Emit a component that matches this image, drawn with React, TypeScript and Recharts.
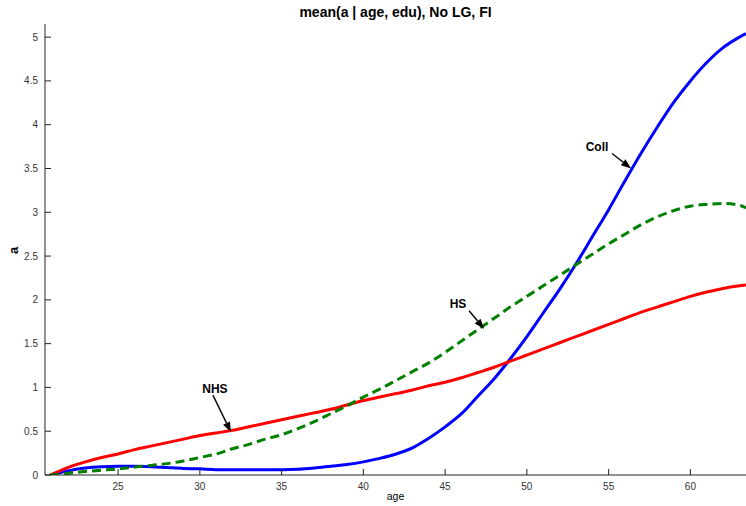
import { LineChart, Line, XAxis, YAxis, ReferenceDot } from "recharts";

if (typeof document !== "undefined") {
  document.body.style.margin = "0";
  document.documentElement.style.overflow = "hidden";
}

const ages = [
  20.85, 22, 23, 24, 25, 26, 27, 28, 29, 30, 31, 32, 33, 34, 35, 36, 37, 38, 39, 40, 41, 42,
  43, 44, 45, 46, 47, 48, 49, 50, 51, 52, 53, 54, 55, 56, 57, 58, 59, 60, 61, 62, 63, 63.4,
];

const nhs = [
  0, 0.09, 0.15, 0.2, 0.24, 0.29, 0.33, 0.37, 0.41, 0.45, 0.48, 0.51, 0.55, 0.59, 0.63, 0.67,
  0.71, 0.75, 0.8, 0.85, 0.89, 0.93, 0.97, 1.02, 1.06, 1.11, 1.17, 1.23, 1.3, 1.37, 1.44, 1.51,
  1.58, 1.65, 1.72, 1.79, 1.86, 1.92, 1.98, 2.04, 2.09, 2.13, 2.16, 2.17,
];

const hs = [
  0, 0.02, 0.04, 0.055, 0.07, 0.09, 0.11, 0.13, 0.16, 0.2, 0.24, 0.3, 0.35, 0.41, 0.46, 0.53,
  0.61, 0.7, 0.79, 0.89, 0.98, 1.08, 1.18, 1.28, 1.4, 1.53, 1.66, 1.79, 1.92, 2.04, 2.16, 2.28,
  2.4, 2.52, 2.64, 2.75, 2.86, 2.95, 3.02, 3.07, 3.09, 3.1, 3.08, 3.05,
];

const coll = [
  0, 0.05, 0.08, 0.095, 0.1, 0.1, 0.095, 0.085, 0.075, 0.07, 0.06, 0.06, 0.06, 0.06, 0.06, 0.065,
  0.08, 0.1, 0.12, 0.15, 0.19, 0.24, 0.31, 0.42, 0.55, 0.7, 0.9, 1.1, 1.33, 1.58, 1.85, 2.12,
  2.41, 2.72, 3.03, 3.36, 3.68, 3.98, 4.26, 4.5, 4.71, 4.88, 5.0, 5.04,
];

const xTicks = [25, 30, 35, 40, 45, 50, 55, 60];
const yTicks = [0, 0.5, 1, 1.5, 2, 2.5, 3, 3.5, 4, 4.5, 5];

// arrow annotations: tip in data units, tail/text offsets in px from the tip
const notes = [
  { label: "NHS", age: 31.9, a: 0.49, tail: [-18, -37], text: [-16, -44] },
  { label: "HS", age: 47.38, a: 1.67, tail: [-15, -18], text: [-26, -25] },
  { label: "Coll", age: 56.37, a: 3.5, tail: [-19, -15], text: [-34, -22] },
];

const data = ages.map((age, i) => ({ age, nhs: nhs[i], hs: hs[i], coll: coll[i] }));

const FONT = "'Liberation Sans', Arial, Helvetica, sans-serif";

function XTick(props: any) {
  const { x, y, payload } = props;
  return (
    <g>
      <line x1={x} x2={x} y1={y} y2={y - 6} stroke="#222" />
      <text x={x} y={y + 15} textAnchor="middle" fontSize={10} fill="#333" fontFamily={FONT}>
        {payload.value}
      </text>
    </g>
  );
}

function YTick(props: any) {
  const { x, y, payload } = props;
  return (
    <g>
      <line x1={x} x2={x + 6} y1={y} y2={y} stroke="#222" />
      <text x={x - 7} y={y + 3.5} textAnchor="end" fontSize={10} fill="#333" fontFamily={FONT}>
        {payload.value}
      </text>
    </g>
  );
}

function Arrow(props: any) {
  const { cx, cy, note } = props;
  const tx = cx + note.tail[0];
  const ty = cy + note.tail[1];
  const ang = Math.atan2(cy - ty, cx - tx);
  const len = 10;
  const w = 3.8;
  const bx = cx - len * Math.cos(ang);
  const by = cy - len * Math.sin(ang);
  const px = -Math.sin(ang) * w;
  const py = Math.cos(ang) * w;
  return (
    <g>
      <line x1={tx} y1={ty} x2={bx} y2={by} stroke="#000" strokeWidth={1.4} />
      <polygon points={`${cx},${cy} ${bx + px},${by + py} ${bx - px},${by - py}`} fill="#000" />
      <text
        x={cx + note.text[0]}
        y={cy + note.text[1] + 4.5}
        textAnchor="middle"
        fontSize={12}
        fontWeight="bold"
        fontFamily={FONT}
        fill="#000"
      >
        {note.label}
      </text>
    </g>
  );
}

const overlay = { position: "absolute" as const, zIndex: 2, pointerEvents: "none" as const, fontFamily: FONT, color: "#000", lineHeight: 1 };

export default function App() {
  return (
    <div style={{ position: "relative", width: 746, height: 506, overflow: "hidden", background: "#fff" }}>
      <LineChart width={746} height={506} data={data} margin={{ top: 24, right: 0, bottom: 0, left: 0 }}>
        <XAxis
          dataKey="age"
          type="number"
          domain={[20.53, 63.4]}
          ticks={xTicks}
          height={31}
          tickSize={0}
          tickMargin={0}
          tickLine={false}
          tick={<XTick />}
          axisLine={{ stroke: "#222" }}
          allowDataOverflow
          interval={0}
        />
        <YAxis
          type="number"
          domain={[0, 5.15]}
          ticks={yTicks}
          width={45}
          tickSize={0}
          tickMargin={0}
          tickLine={false}
          tick={<YTick />}
          axisLine={{ stroke: "#222" }}
          allowDataOverflow
          interval={0}
        />
        <Line
          dataKey="coll"
          type="monotone"
          stroke="#0000ff"
          strokeWidth={3}
          dot={false}
          isAnimationActive={false}
        />
        <Line
          dataKey="nhs"
          type="monotone"
          stroke="#ff0000"
          strokeWidth={3}
          dot={false}
          isAnimationActive={false}
        />
        <Line
          dataKey="hs"
          type="monotone"
          stroke="#008000"
          strokeWidth={3}
          strokeDasharray="9 5"
          dot={false}
          isAnimationActive={false}
        />
        {notes.map((n) => (
          <ReferenceDot
            key={n.label}
            x={n.age}
            y={n.a}
            ifOverflow="visible"
            shape={(p: any) => <Arrow {...p} note={n} />}
          />
        ))}
      </LineChart>
      <div style={{ ...overlay, left: 45, width: 701, top: 5, textAlign: "center", fontWeight: "bold", fontSize: 14 }}>
        mean(a | age, edu), No LG, FI
      </div>
      <div style={{ ...overlay, left: 10, top: 244, transform: "rotate(-90deg)", fontWeight: "bold", fontSize: 13 }}>
        a
      </div>
      <div style={{ ...overlay, left: 45, width: 701, top: 491, textAlign: "center", fontSize: 10.5 }}>
        age
      </div>
    </div>
  );
}
